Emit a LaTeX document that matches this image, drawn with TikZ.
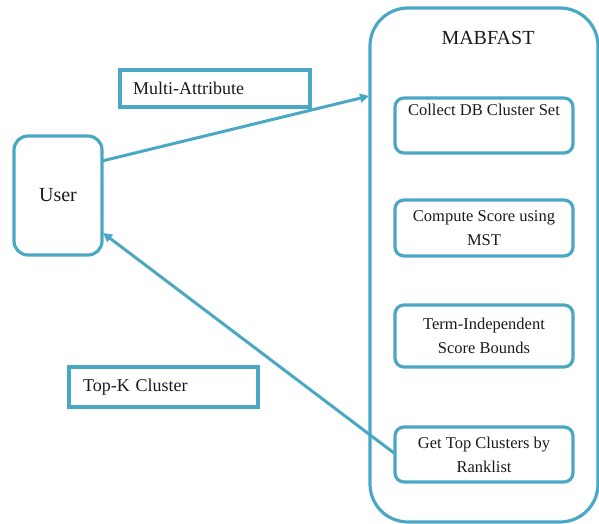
\documentclass[tikz,border=0pt]{standalone}
\usepackage{fontspec}
\setmainfont{Liberation Serif}
\usetikzlibrary{arrows.meta}
\definecolor{lc}{HTML}{4BA8C4}
\definecolor{tc}{HTML}{1A1A1A}
\begin{document}
\begin{tikzpicture}[x=1pt,y=-1pt,
  box/.style={draw=lc,line width=3.2pt,rounded corners=9pt,inner sep=0pt,text=tc,align=center,font=\fontsize{16.5}{24}\selectfont},
  lbl/.style={draw=lc,line width=3.2pt,inner sep=0pt,text=tc,font=\fontsize{18}{22}\selectfont},
  conn/.style={draw=lc,line width=3pt,-{Triangle[length=9pt,width=9pt]}}]
\useasboundingbox (0,0) rectangle (599,524);
% container
\node[draw=lc,line width=3.2pt,rounded corners=38pt,minimum width=228pt,minimum height=514pt,inner sep=0pt] (mab) at (484,265) {};
\node[text=tc,font=\fontsize{20}{24}\selectfont] (mabt) at (488,38) {MABFAST};
% inner boxes
\node[box,minimum width=178pt,minimum height=55pt] (c1) at (484,125.5) {Collect DB Cluster Set\\ \strut};
\node[box,minimum width=178pt,minimum height=56pt] (c2) at (484,228) {Compute Score using\\MST};
\node[box,minimum width=178pt,minimum height=62pt] (c3) at (484,336) {Term-Independent\\Score Bounds};
\node[box,minimum width=178pt,minimum height=55pt] (c4) at (484,454.5) {Get Top Clusters by\\Ranklist};
% user
\node[box,rounded corners=14pt,minimum width=88pt,minimum height=119pt,font=\fontsize{20}{24}\selectfont] (user) at (58,195.5) {User};
% labels
\node[lbl,minimum width=190pt,minimum height=37pt,text width=164pt,align=left] (ma) at (215,88.5) {Multi-Attribute};
\node[lbl,minimum width=189pt,minimum height=40pt,text width=161pt,align=left] (tk) at (163.5,387) {Top-K Cluster};
% connectors
\coordinate (u1) at (102,161);
\coordinate (m1) at (369,96);
\coordinate (g1) at (394,453);
\coordinate (u2) at (103,233);
\draw[conn] (u1) -- (m1);
\draw[conn] (g1) -- (u2);
\end{tikzpicture}
\end{document}
